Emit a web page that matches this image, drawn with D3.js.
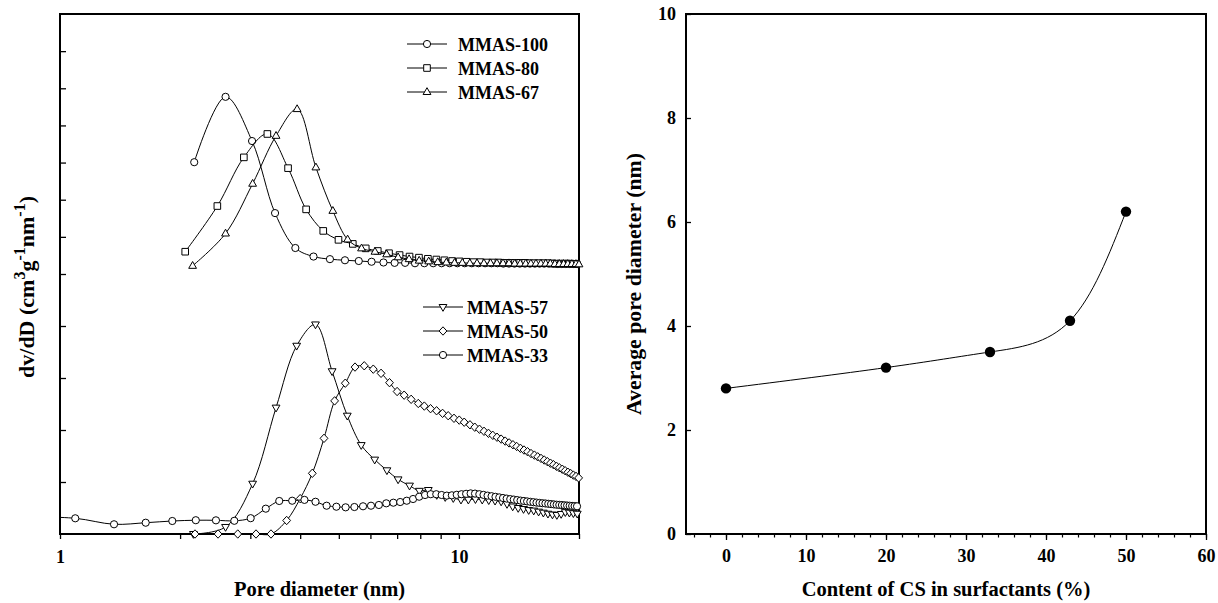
<!DOCTYPE html>
<html lang="en">
<head>
<meta charset="UTF-8">
<title>Pore size distribution</title>
<script src="https://cdn.jsdelivr.net/npm/d3@7"></script>
<style>
  body { margin: 0; background: #fff; }
  svg text { font-family: "Liberation Serif", "Times New Roman", serif; font-weight: bold; fill: #000; }
</style>
</head>
<body>
<svg id="chart" width="1218" height="603"></svg>
<script>
// ---- left panel: dv/dD vs pore diameter, [d (nm), value] ----
const mmas100 = [[2.17,8.01],[2.60,9.77],[3.03,8.58],[3.46,6.64],[3.89,5.70],[4.32,5.47],[4.75,5.40],[5.18,5.37],[5.61,5.35],[6.04,5.33],
  [6.47,5.31],[6.90,5.30],[7.33,5.30],[7.76,5.29],[8.19,5.29],[8.62,5.29],[9.05,5.29],[9.48,5.29],[9.91,5.29],[10.34,5.29],
  [10.77,5.29],[11.20,5.29],[11.63,5.29],[12.06,5.29],[12.49,5.29],[12.92,5.28],[13.35,5.28],[13.78,5.28],[14.21,5.28],[14.64,5.28],
  [15.07,5.28],[15.50,5.28],[15.93,5.28],[16.36,5.28],[16.79,5.28],[17.22,5.28],[17.65,5.27],[18.08,5.27],[18.51,5.27],[18.94,5.27],
  [19.37,5.27],[19.80,5.27]];
const mmas80 = [[2.06,5.60],[2.48,6.83],[2.89,8.14],[3.31,8.77],[3.73,7.85],[4.14,6.74],[4.57,6.16],[4.99,5.92],[5.42,5.81],[5.84,5.69],
  [6.26,5.62],[6.68,5.56],[7.10,5.51],[7.52,5.47],[7.94,5.44],[8.36,5.41],[8.78,5.39],[9.20,5.37],[9.62,5.35],[10.04,5.34],
  [10.46,5.33],[10.88,5.32],[11.30,5.32],[11.72,5.31],[12.14,5.31],[12.56,5.31],[12.98,5.30],[13.40,5.30],[13.82,5.30],[14.24,5.30],
  [14.66,5.30],[15.08,5.29],[15.50,5.29],[15.92,5.29],[16.34,5.29],[16.76,5.29],[17.18,5.28],[17.60,5.28],[18.02,5.28],[18.44,5.28],
  [18.86,5.28],[19.28,5.27],[19.70,5.27]];
const mmas67 = [[2.15,5.22],[2.60,6.09],[3.04,7.43],[3.48,8.72],[3.93,9.44],[4.38,7.87],[4.83,6.70],[5.26,5.93],[5.70,5.69],[6.16,5.60],
  [6.59,5.53],[7.04,5.45],[7.50,5.40],[7.95,5.36],[8.40,5.34],[8.85,5.32],[9.30,5.31],[9.75,5.30],[10.20,5.30],[10.65,5.29],
  [11.10,5.29],[11.55,5.29],[12.00,5.29],[12.45,5.29],[12.90,5.29],[13.35,5.29],[13.80,5.28],[14.25,5.28],[14.70,5.28],[15.15,5.28],
  [15.60,5.28],[16.05,5.28],[16.50,5.28],[16.95,5.28],[17.40,5.27],[17.85,5.27],[18.30,5.27],[18.75,5.27],[19.20,5.27],[19.65,5.27],
  [20.00,5.26]];
const mmas57 = [[2.16,0.0],[2.60,0.135],[3.04,0.967],[3.48,2.43],[3.92,3.62],[4.37,4.03],[4.81,3.13],[5.25,2.275],[5.69,1.71],[6.15,1.43],
  [6.60,1.225],[7.04,1.05],[7.52,0.93],[7.96,0.83],[8.38,0.846],[8.80,0.75],[9.24,0.71],[9.68,0.69],[10.12,0.66],[10.56,0.66],
  [11.00,0.67],[11.44,0.66],[11.88,0.65],[12.32,0.64],[12.76,0.625],[13.20,0.577],[13.64,0.529],[14.08,0.50],[14.52,0.48],[14.96,0.46],
  [15.40,0.45],[15.84,0.43],[16.28,0.41],[16.72,0.39],[17.16,0.375],[17.60,0.365],[18.04,0.385],[18.48,0.42],[18.92,0.41],[19.36,0.40],
  [19.80,0.39]];
const mmas50 = [[2.18,0],[2.49,0],[2.79,0],[3.10,0],[3.38,0],[3.70,0.26],[4.00,0.68],[4.29,1.167],[4.59,1.84],[4.88,2.56],
  [5.19,2.90],[5.49,3.21],[5.79,3.235],[6.10,3.17],[6.38,3.09],[6.70,2.91],[7.00,2.74],[7.29,2.67],[7.59,2.59],[7.91,2.51],
  [8.19,2.46],[8.49,2.41],[8.79,2.37],[9.10,2.32],[9.40,2.275],[9.72,2.225],[10.02,2.19],[10.31,2.15],[10.66,2.10],[10.96,2.054],
  [11.26,2.015],[11.56,1.975],[11.86,1.936],[12.16,1.898],[12.46,1.861],[12.76,1.825],[13.06,1.787],[13.36,1.752],[13.66,1.717],[13.96,1.683],
  [14.26,1.648],[14.56,1.615],[14.86,1.583],[15.16,1.548],[15.46,1.517],[15.76,1.485],[16.06,1.454],[16.36,1.423],[16.66,1.392],[16.96,1.362],
  [17.26,1.333],[17.56,1.302],[17.86,1.273],[18.16,1.246],[18.46,1.217],[18.76,1.188],[19.06,1.162],[19.36,1.133],[19.66,1.108],[19.96,1.079]];
const mmas33 = [[0.817,0.335],[1.092,0.302],[1.366,0.187],[1.64,0.217],[1.912,0.25],[2.19,0.265],[2.46,0.263],[2.735,0.254],[3.006,0.304],[3.28,0.487],
  [3.545,0.635],[3.82,0.64],[4.10,0.656],[4.37,0.62],[4.66,0.544],[4.93,0.525],[5.20,0.513],[5.47,0.519],[5.75,0.533],[6.02,0.544],
  [6.30,0.558],[6.575,0.590],[6.85,0.602],[7.125,0.615],[7.40,0.640],[7.675,0.673],[7.95,0.717],[8.225,0.750],[8.50,0.765],[8.775,0.765],
  [9.05,0.750],[9.325,0.738],[9.60,0.744],[9.875,0.754],[10.15,0.765],[10.425,0.773],[10.70,0.781],[10.975,0.777],[11.25,0.765],[11.525,0.752],
  [11.80,0.738],[12.075,0.727],[12.35,0.715],[12.625,0.704],[12.90,0.692],[13.175,0.681],[13.45,0.671],[13.725,0.662],[14.0,0.652],[14.275,0.642],
  [14.55,0.635],[14.825,0.627],[15.10,0.619],[15.375,0.612],[15.65,0.604],[15.925,0.598],[16.20,0.592],[16.475,0.587],[16.75,0.581],[17.025,0.575],
  [17.30,0.569],[17.575,0.563],[17.85,0.560],[18.125,0.556],[18.40,0.552],[18.675,0.548],[18.95,0.544],[19.225,0.540],[19.50,0.537],[19.775,0.533]];

const upperNames = ["MMAS-100", "MMAS-80", "MMAS-67"];
const lowerNames = ["MMAS-57", "MMAS-50", "MMAS-33"];
const leftXTicks = [1, 2, 3, 4, 5, 6, 7, 8, 9, 10, 20];
const leftYTicks = [1, 2, 3, 4, 5, 6, 7, 8, 9, 10, 11];

// ---- right panel: average pore diameter vs CS content ----
const csContent = [0, 20, 33, 43, 50];
const poreDiameter = [2.8, 3.2, 3.5, 4.1, 6.2];
const rightXMajor = [0, 10, 20, 30, 40, 50, 60];
const rightXMinor = d3.range(-4, 61, 2);
const rightYTicks = [0, 2, 4, 6, 8, 10];

const svg = d3.select("#chart");

// marker shapes
function marker(shape) {
  switch (shape) {
    case "circle": return "M3.6,0A3.6,3.6 0 1,1 -3.6,0A3.6,3.6 0 1,1 3.6,0Z";
    case "square": return "M-3.3,-3.3H3.3V3.3H-3.3Z";
    case "up": return "M0,-4.3L3.9,2.5L-3.9,2.5Z";
    case "down": return "M0,4.3L3.9,-2.5L-3.9,-2.5Z";
    case "diamond": return "M0,-4.2L3.9,0L0,4.2L-3.9,0Z";
  }
}

// ================= LEFT PANEL =================
const L = { x0: 60, x1: 579, y0: 14, y1: 534 };
const xL = d3.scaleLog().domain([1, 20]).range([L.x0, L.x1]);
const yL = d3.scaleLinear().domain([0, 5, 12]).range([L.y1, 274, L.y0]);

svg.append("clipPath").attr("id", "clipL")
  .append("rect").attr("x", L.x0).attr("y", L.y0 - 10).attr("width", L.x1 - L.x0).attr("height", L.y1 - L.y0 + 20);

const gL = svg.append("g");

gL.append("g")
  .attr("transform", `translate(0,${L.y1})`)
  .call(d3.axisBottom(xL).tickValues(leftXTicks).tickSize(5).tickPadding(11)
    .tickFormat(d => (d === 1 || d === 10) ? d : ""))
  .call(g => g.select(".domain").remove())
  .call(g => g.selectAll("line").attr("stroke-width", 1.3))
  .call(g => g.selectAll("text").attr("font-size", 18));

gL.append("g")
  .attr("transform", `translate(${L.x0},0)`)
  .call(d3.axisLeft(yL).tickValues(leftYTicks).tickSize(-6).tickFormat(""))
  .call(g => g.select(".domain").remove())
  .call(g => g.selectAll("line").attr("stroke-width", 1.3));

gL.append("rect")
  .attr("x", L.x0).attr("y", L.y0).attr("width", L.x1 - L.x0).attr("height", L.y1 - L.y0)
  .attr("fill", "none").attr("stroke", "#000").attr("stroke-width", 2);

const lineL = d3.line().x(d => xL(d[0])).y(d => yL(d[1])).curve(d3.curveCatmullRom.alpha(0.5));

const seriesL = [
  { name: upperNames[0], data: mmas100, shape: "circle" },
  { name: upperNames[1], data: mmas80, shape: "square" },
  { name: upperNames[2], data: mmas67, shape: "up" },
  { name: lowerNames[0], data: mmas57, shape: "down" },
  { name: lowerNames[1], data: mmas50, shape: "diamond" },
  { name: lowerNames[2], data: mmas33, shape: "circle" }
];

seriesL.forEach(s => {
  gL.append("path")
    .attr("d", lineL(s.data))
    .attr("clip-path", "url(#clipL)")
    .attr("fill", "none").attr("stroke", "#000").attr("stroke-width", 1);
  gL.append("g").selectAll("path")
    .data(s.data.filter(d => d[0] >= 1))
    .join("path")
    .attr("transform", d => `translate(${xL(d[0])},${yL(d[1])})`)
    .attr("d", marker(s.shape))
    .attr("fill", "#fff").attr("stroke", "#000").attr("stroke-width", 1);
});

// legends
function legend(items, shapes, x0, x1, tx, ys) {
  items.forEach((name, i) => {
    const g = gL.append("g");
    g.append("line").attr("x1", x0).attr("x2", x1).attr("y1", ys[i]).attr("y2", ys[i])
      .attr("stroke", "#000").attr("stroke-width", 1);
    g.append("path").attr("transform", `translate(${(x0 + x1) / 2},${ys[i]})`)
      .attr("d", marker(shapes[i])).attr("fill", "#fff").attr("stroke", "#000");
    g.append("text").attr("x", tx).attr("y", ys[i] + 6.5).attr("font-size", 18).text(name);
  });
}
legend(upperNames, ["circle", "square", "up"], 407, 447, 458, [44, 68, 92]);
legend(lowerNames, ["down", "diamond", "circle"], 423, 463, 467, [307, 331, 355]);

gL.append("text")
  .attr("x", (L.x0 + L.x1) / 2).attr("y", 596)
  .attr("text-anchor", "middle").attr("font-size", 20.5)
  .text("Pore diameter (nm)");

const yTitleL = gL.append("text")
  .attr("transform", "rotate(-90)")
  .attr("x", -287).attr("y", 34)
  .attr("text-anchor", "middle").attr("font-size", 22);
yTitleL.append("tspan").text("dv/dD (cm");
yTitleL.append("tspan").attr("dy", -9).attr("font-size", 16).text("3");
yTitleL.append("tspan").attr("dy", 9).text("g");
yTitleL.append("tspan").attr("dy", -9).attr("font-size", 16).text("-1");
yTitleL.append("tspan").attr("dy", 9).text("nm");
yTitleL.append("tspan").attr("dy", -9).attr("font-size", 16).text("-1");
yTitleL.append("tspan").attr("dy", 9).text(")");

// ================= RIGHT PANEL =================
const R = { x0: 686, x1: 1206, y0: 14, y1: 534 };
const xR = d3.scaleLinear().domain([-5, 60]).range([R.x0, R.x1]);
const yR = d3.scaleLinear().domain([0, 10]).range([R.y1, R.y0]);

const gR = svg.append("g");

gR.append("g")
  .attr("transform", `translate(0,${R.y1})`)
  .call(d3.axisBottom(xR).tickValues(rightXMinor).tickSize(3.5).tickFormat(""))
  .call(g => g.select(".domain").remove())
  .call(g => g.selectAll("line").attr("stroke-width", 1.2));

gR.append("g")
  .attr("transform", `translate(0,${R.y1})`)
  .call(d3.axisBottom(xR).tickValues(rightXMajor).tickSize(6).tickPadding(9.5))
  .call(g => g.select(".domain").remove())
  .call(g => g.selectAll("line").attr("stroke-width", 1.3))
  .call(g => g.selectAll("text").attr("font-size", 18));

gR.append("g")
  .attr("transform", `translate(${R.x0},0)`)
  .call(d3.axisLeft(yR).tickValues(rightYTicks).tickSize(-5).tickPadding(10))
  .call(g => g.select(".domain").remove())
  .call(g => g.selectAll("line").attr("stroke-width", 1.3))
  .call(g => g.selectAll("text").attr("font-size", 18));

gR.append("rect")
  .attr("x", R.x0).attr("y", R.y0).attr("width", R.x1 - R.x0).attr("height", R.y1 - R.y0)
  .attr("fill", "none").attr("stroke", "#000").attr("stroke-width", 2);

const ptsR = csContent.map((c, i) => [c, poreDiameter[i]]);

gR.append("path")
  .attr("d", d3.line().x(d => xR(d[0])).y(d => yR(d[1])).curve(d3.curveNatural)(ptsR))
  .attr("fill", "none").attr("stroke", "#000").attr("stroke-width", 1);

gR.selectAll("circle.pt")
  .data(ptsR)
  .join("circle")
  .attr("class", "pt")
  .attr("cx", d => xR(d[0])).attr("cy", d => yR(d[1])).attr("r", 5.2)
  .attr("fill", "#000");

gR.append("text")
  .attr("x", (R.x0 + R.x1) / 2).attr("y", 596)
  .attr("text-anchor", "middle").attr("font-size", 20.5)
  .text("Content of CS in surfactants (%)");

gR.append("text")
  .attr("transform", "rotate(-90)")
  .attr("x", -284).attr("y", 641)
  .attr("text-anchor", "middle").attr("font-size", 21.8)
  .text("Average pore diameter (nm)");
</script>
</body>
</html>
